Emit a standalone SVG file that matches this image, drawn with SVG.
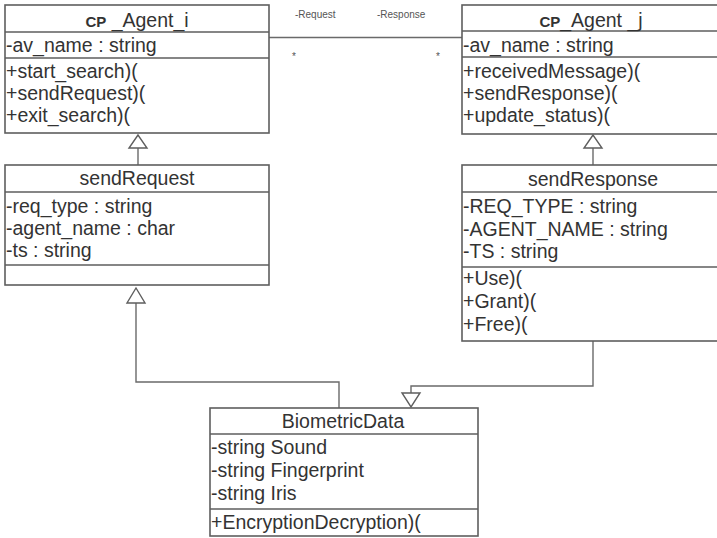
<svg xmlns="http://www.w3.org/2000/svg" width="717" height="538" viewBox="0 0 717 538">
<style>
  .box { fill: #ffffff; stroke: #5e5e5e; stroke-width: 1.6; }
  .sep { stroke: #5e5e5e; stroke-width: 1.6; }
  .t { font-family: "Liberation Sans", Arial, sans-serif; font-size: 19.5px; fill: #333333; }
  .c { text-anchor: middle; }
  .cp { font-weight: bold; font-size: 15px; }
  .small { font-family: "Liberation Sans", Arial, sans-serif; font-size: 10px; fill: #555; }
  .conn { fill: none; stroke: #6a6a6a; stroke-width: 1.4; }
  .tri { fill: #ffffff; stroke: #5e5e5e; stroke-width: 1.4; }
</style>
<rect width="717" height="538" fill="#ffffff"/>

<g id="connectors">
  <line class="conn" x1="269" y1="37.5" x2="462" y2="37.5"/>
  <text class="small" x="295" y="18">-Request</text>
  <text class="small" x="377" y="18">-Response</text>
  <text class="small" x="292" y="60">*</text>
  <text class="small" x="436" y="60">*</text>
  <line class="conn" x1="138" y1="148" x2="138" y2="165"/>
  <polygon class="tri" points="138,135 129,148 147,148"/>
  <line class="conn" x1="593" y1="148" x2="593" y2="165"/>
  <polygon class="tri" points="593,135 584,148 602,148"/>
  <polyline class="conn" points="339,408 339,382 136,382 136,303"/>
  <polygon class="tri" points="136,288 127,303 145,303"/>
  <polyline class="conn" points="593,341 593,386 411,386 411,393"/>
  <polygon class="tri" points="402,393 420,393 411,407"/>
</g>

<g id="CP_Agent_i">
  <rect class="box" x="5" y="5" width="264" height="128"/>
  <line class="sep" x1="5" y1="32" x2="269" y2="32"/>
  <line class="sep" x1="5" y1="58" x2="269" y2="58"/>
  <text class="t c" x="137" y="27"><tspan class="cp">CP</tspan> _Agent_i</text>
  <text class="t" x="6" y="52">-av_name : string</text>
  <text class="t" x="6" y="78">+start_search)(</text>
  <text class="t" x="6" y="100">+sendRequest)(</text>
  <text class="t" x="6" y="122">+exit_search)(</text>
</g>

<g id="CP_Agent_j">
  <rect class="box" x="462" y="5" width="260" height="129"/>
  <line class="sep" x1="462" y1="31" x2="722" y2="31"/>
  <line class="sep" x1="462" y1="57" x2="722" y2="57"/>
  <text class="t c" x="591" y="27"><tspan class="cp">CP</tspan>_Agent _j</text>
  <text class="t" x="463" y="52">-av_name : string</text>
  <text class="t" x="463" y="78">+receivedMessage)(</text>
  <text class="t" x="463" y="100">+sendResponse)(</text>
  <text class="t" x="463" y="122">+update_status)(</text>
</g>

<g id="sendRequest">
  <rect class="box" x="5" y="165" width="264" height="120"/>
  <line class="sep" x1="5" y1="192" x2="269" y2="192"/>
  <line class="sep" x1="5" y1="265" x2="269" y2="265"/>
  <text class="t c" x="137" y="185">sendRequest</text>
  <text class="t" x="6" y="213">-req_type : string</text>
  <text class="t" x="6" y="235">-agent_name : char</text>
  <text class="t" x="6" y="257">-ts : string</text>
</g>

<g id="sendResponse">
  <rect class="box" x="462" y="165" width="260" height="176"/>
  <line class="sep" x1="462" y1="192" x2="722" y2="192"/>
  <line class="sep" x1="462" y1="267" x2="722" y2="267"/>
  <text class="t c" x="593" y="186">sendResponse</text>
  <text class="t" x="463" y="213">-REQ_TYPE : string</text>
  <text class="t" x="463" y="236">-AGENT_NAME : string</text>
  <text class="t" x="463" y="258">-TS : string</text>
  <text class="t" x="463" y="285">+Use)(</text>
  <text class="t" x="463" y="308">+Grant)(</text>
  <text class="t" x="463" y="331">+Free)(</text>
</g>

<g id="BiometricData">
  <rect class="box" x="210" y="408" width="268" height="128"/>
  <line class="sep" x1="210" y1="434" x2="478" y2="434"/>
  <line class="sep" x1="210" y1="509" x2="478" y2="509"/>
  <text class="t c" x="343" y="428">BiometricData</text>
  <text class="t" x="211" y="454">-string Sound</text>
  <text class="t" x="211" y="477">-string Fingerprint</text>
  <text class="t" x="211" y="500">-string Iris</text>
  <text class="t" x="211" y="529">+EncryptionDecryption)(</text>
</g>
</svg>
